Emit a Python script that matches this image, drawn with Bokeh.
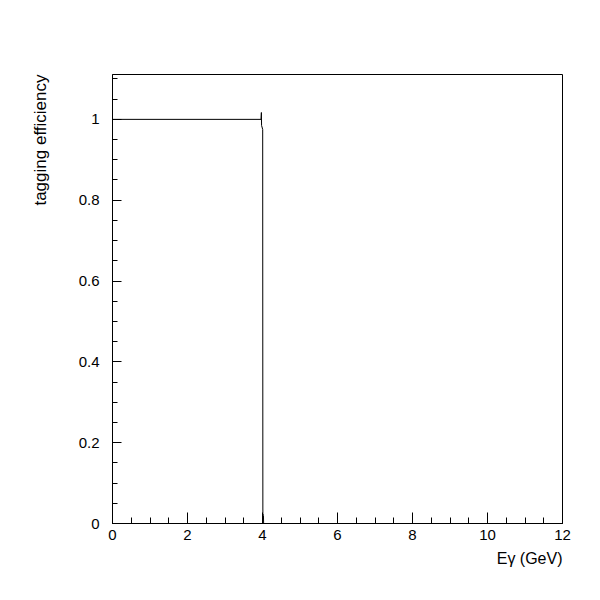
from bokeh.plotting import figure
from bokeh.models import FixedTicker, Title, Range1d
from bokeh.embed import file_html
from bokeh.resources import INLINE
import numpy as np

# tagging efficiency vs photon energy
energy = [0.0, 3.96, 3.97, 3.975, 4.005, 4.01, 4.025, 4.03, 12.0]
efficiency = [1.0, 1.0, 1.017, 0.985, 0.975, 0.025, 0.02, 0.0, 0.0]

x_ticks = [0, 2, 4, 6, 8, 10, 12]
y_ticks = [0, 0.2, 0.4, 0.6, 0.8, 1.0]
y_tick_labels = {0: "0", 0.2: "0.2", 0.4: "0.4", 0.6: "0.6", 0.8: "0.8", 1: "1"}

FONT = "Liberation Sans"

p = figure(width=584, height=584, output_backend="svg", toolbar_location=None,
           x_range=Range1d(0, 12), y_range=Range1d(0, 1.111),
           min_border_left=112, min_border_right=22,
           min_border_top=74, min_border_bottom=61)

p.line(energy, efficiency, line_color="black", line_width=1)

p.xgrid.visible = False
p.ygrid.visible = False
p.outline_line_color = "black"
p.outline_line_width = 1
p.background_fill_color = "white"
p.border_fill_color = "white"

xa = p.xaxis[0]
xa.ticker = FixedTicker(ticks=x_ticks, minor_ticks=list(np.arange(0, 12.01, 0.5)))
xa.major_tick_in = 11
xa.major_tick_out = 0
xa.minor_tick_in = 6
xa.minor_tick_out = 0
xa.major_label_standoff = 6
xa.major_label_text_font = FONT
xa.major_label_text_font_size = "15px"
xa.major_label_text_color = "black"
xa.axis_line_color = "black"
xa.major_tick_line_color = "black"
xa.minor_tick_line_color = "black"

ya = p.yaxis[0]
ya.ticker = FixedTicker(ticks=y_ticks, minor_ticks=list(np.arange(0, 1.11, 0.05)))
ya.major_label_overrides = y_tick_labels
ya.major_tick_in = 9
ya.major_tick_out = 0
ya.minor_tick_in = 5
ya.minor_tick_out = 0
ya.major_label_standoff = 13
ya.major_label_text_font = FONT
ya.major_label_text_font_size = "15px"
ya.major_label_text_color = "black"
ya.axis_line_color = "black"
ya.major_tick_line_color = "black"
ya.minor_tick_line_color = "black"

xlab = Title(text="E\u03b3 (GeV)", align="right", text_font=FONT,
             text_font_size="16px", text_font_style="normal",
             text_color="black", standoff=10)
ylab = Title(text="tagging efficiency", align="right", text_font=FONT,
             text_font_size="17px", text_font_style="normal",
             text_color="black", standoff=52)
p.add_layout(xlab, "below")
p.add_layout(ylab, "left")

open("out.html", "w").write(file_html(p, INLINE))
